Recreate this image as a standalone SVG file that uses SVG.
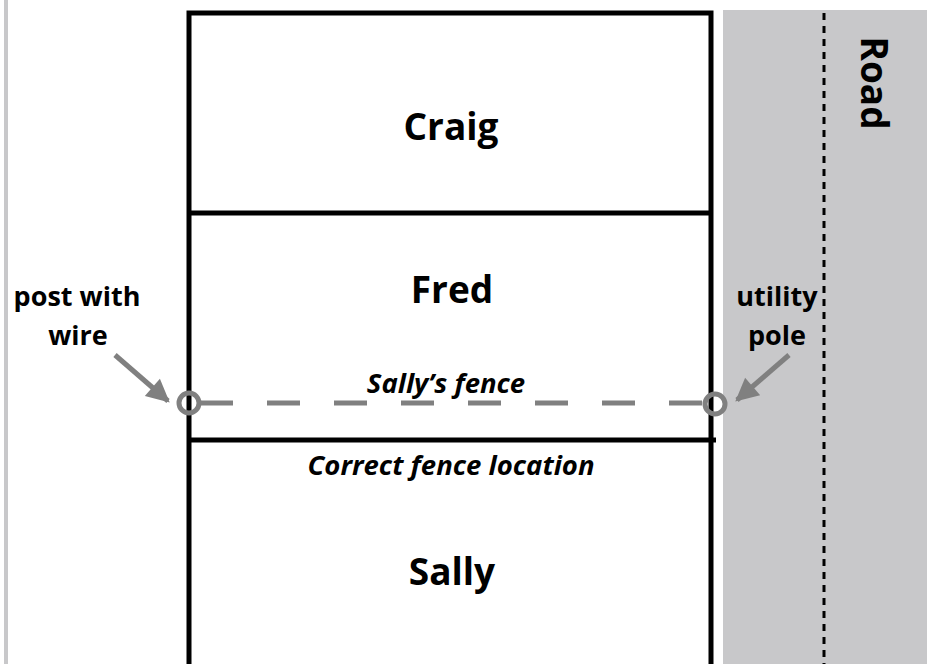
<svg xmlns="http://www.w3.org/2000/svg" width="927" height="664" viewBox="0 0 927 664">
<defs>
<style>
.lbl{font-family:"Open Sans","Liberation Sans",sans-serif;font-weight:bold;fill:#000;text-anchor:middle}
.big{font-size:37px}
.small{font-size:27px}
.it{font-style:italic;font-size:27.5px}
.edge{stroke:#000;stroke-width:5;fill:none}
.gray{stroke:#808080;stroke-width:5;fill:none}
</style>
<marker id="ah" viewBox="0 0 10 10" refX="9" refY="5" markerWidth="5.5" markerHeight="4.6" markerUnits="strokeWidth" orient="auto">
<path d="M0,0 L10,5 L0,10 Z" fill="#808080"/>
</marker>
</defs>
<rect width="927" height="664" fill="#fff"/>
<g id="left-edge"><line x1="6" y1="0" x2="6" y2="664" stroke="#c8c8ca" stroke-width="4"/></g>
<g id="road">
<rect x="723" y="10" width="204" height="654" fill="#c8c8ca"/>
<line x1="824" y1="13" x2="824" y2="664" stroke="#000" stroke-width="3" stroke-dasharray="7 6"/>
<text class="lbl big" transform="translate(861,83) rotate(90)">Road</text>
</g>
<g id="lots">
<path class="edge" d="M189,664 V13 H711 V664"/>
<line class="edge" x1="189" y1="213" x2="711" y2="213"/>
</g>
<g id="craig"><text class="lbl big" x="451" y="140">Craig</text></g>
<g id="fred"><text class="lbl big" x="452" y="303">Fred</text></g>
<g id="sally"><text class="lbl big" x="452" y="585">Sally</text></g>
<g id="correct-fence">
<line class="edge" x1="189" y1="440" x2="716" y2="440"/>
<text class="lbl it" x="451" y="475">Correct fence location</text>
</g>
<g id="sallys-fence">
<line class="gray" x1="200" y1="403" x2="703" y2="403" stroke-dasharray="33 34"/>
<text class="lbl it" x="446" y="393">Sally’s fence</text>
</g>
<g id="post"><circle class="gray" cx="189" cy="403" r="10"/>
<text class="lbl small" x="77" y="306">post with</text>
<text class="lbl small" x="78" y="345">wire</text></g>
<g id="pole"><circle class="gray" cx="715" cy="404" r="10"/>
<text class="lbl small" x="777" y="306">utility</text>
<text class="lbl small" x="777" y="345">pole</text></g>
<g id="connectors">
<line class="gray" x1="115" y1="355" x2="168" y2="401" marker-end="url(#ah)"/>
<line class="gray" x1="789" y1="355" x2="737" y2="400" marker-end="url(#ah)"/>
</g>
</svg>
